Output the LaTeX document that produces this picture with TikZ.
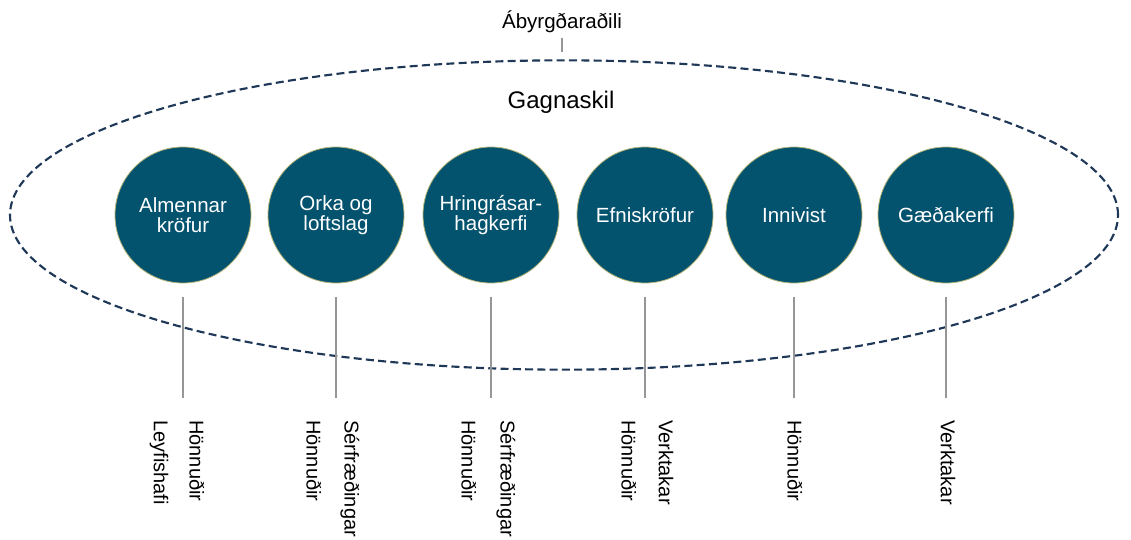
\documentclass[tikz,border=0pt]{standalone}
\usepackage{fontspec}
\setmainfont{Liberation Sans}
\usetikzlibrary{shapes.geometric}
\definecolor{hringlitur}{RGB}{3,82,110}
\definecolor{jadarlitur}{RGB}{180,180,120}
\definecolor{strikalitur}{RGB}{31,56,88}
\definecolor{linulitur}{RGB}{150,150,150}
\begin{document}
\begin{tikzpicture}[x=0.75pt,y=-0.75pt,
        flokkur/.style={circle,fill=hringlitur,draw=jadarlitur,line width=0.6pt,
          minimum size=102pt,inner sep=0pt,text=white,align=center,
          font=\fontsize{15.4}{15}\selectfont},
        hlutverk/.style={rotate=-90,anchor=west,inner sep=0pt,
          font=\fontsize{15}{18}\selectfont},
        tenging/.style={draw=linulitur,line width=1.1pt,shorten <=10pt}]
        \useasboundingbox (0,0) rectangle (1131,539);
        % ytri sporbaugur
        \node[ellipse,draw=strikalitur,line width=1.6pt,dash pattern=on 6pt off 3.2pt,
          minimum width=831pt,minimum height=232pt,inner sep=0pt] (svid) at (564,215) {};
        \node[font=\fontsize{18}{20}\selectfont] (gagnaskil) at (561,102) {Gagnaskil};
        \node[font=\fontsize{15.4}{18}\selectfont] (abyrgd) at (562,22) {Ábyrgðaraðili};
        \coordinate (abyrgdend) at (562,52);
        \draw[tenging,line width=0.8pt,shorten <=0pt] (abyrgd.south) -- (abyrgdend);
        % hringir
        \node[flokkur] (almenn) at (183,215) {Almennar\\kröfur};
        \node[flokkur] (orka) at (336,215) {Orka og\\loftslag};
        \node[flokkur] (hringras) at (491,215) {Hringrásar-\\hagkerfi};
        \node[flokkur] (efni) at (645,215) {Efniskröfur};
        \node[flokkur] (inni) at (794,215) {Innivist};
        \node[flokkur] (gaedi) at (946,215) {Gæðakerfi};
        % lóðréttar línur
        \coordinate (almennend) at (183,398);
        \coordinate (orkaend) at (336,398);
        \coordinate (hringrasend) at (491,398);
        \coordinate (efniend) at (645,398);
        \coordinate (inniend) at (794,398);
        \coordinate (gaediend) at (946,398);
        \draw[tenging] (almenn.south) -- (almennend);
        \draw[tenging] (orka.south) -- (orkaend);
        \draw[tenging] (hringras.south) -- (hringrasend);
        \draw[tenging] (efni.south) -- (efniend);
        \draw[tenging] (inni.south) -- (inniend);
        \draw[tenging] (gaedi.south) -- (gaediend);
        % hlutverk
        \node[hlutverk] (leyfishafi) at (159,420) {Leyfishafi};
        \node[hlutverk] (honn1) at (197,420) {Hönnuðir};
        \node[hlutverk] (honn2) at (314,420) {Hönnuðir};
        \node[hlutverk] (serfr2) at (350,420) {Sérfræðingar};
        \node[hlutverk] (honn3) at (469,420) {Hönnuðir};
        \node[hlutverk] (serfr3) at (506,420) {Sérfræðingar};
        \node[hlutverk] (honn4) at (629,420) {Hönnuðir};
        \node[hlutverk] (verk4) at (666,420) {Verktakar};
        \node[hlutverk] (honn5) at (795,420) {Hönnuðir};
        \node[hlutverk] (verk6) at (948,420) {Verktakar};
      \end{tikzpicture}
\end{document}
